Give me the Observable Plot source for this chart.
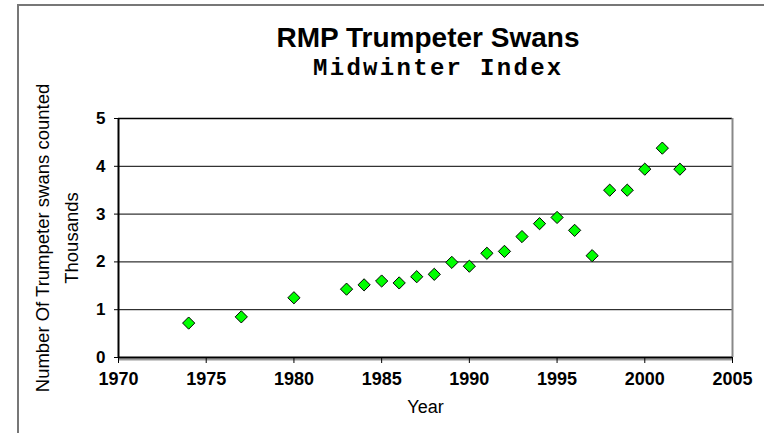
<!DOCTYPE html>
<html>
<head>
<meta charset="utf-8">
<script src="https://cdn.jsdelivr.net/npm/d3@7"></script>
<script src="https://cdn.jsdelivr.net/npm/@observablehq/plot@0.6"></script>
<style>
  html, body { margin: 0; padding: 0; background: #fff; }
  #wrap { position: relative; width: 764px; height: 433px; overflow: hidden; background: #fff; }
  #border { position: absolute; left: 17px; top: 4px; width: 900px; height: 600px;
            border-left: 2px solid #777; border-top: 2px solid #777; }
  #title { position: absolute; top: 24px; left: 428px; transform: translateX(-50%);
           font-family: "Liberation Sans", Arial, sans-serif; font-weight: bold; font-size: 28px;
           line-height: 1; white-space: nowrap; color: #000; }
  #subtitle { position: absolute; top: 57px; left: 313px;
           font-family: "Liberation Mono", "Courier New", monospace; font-weight: bold; font-size: 24px;
           letter-spacing: 2.3px; line-height: 1; white-space: nowrap; color: #000; }
  #chart { position: absolute; left: 0; top: 0; }
</style>
</head>
<body>
<div id="wrap">
  <div id="border"></div>
  <div id="chart"></div>
  <div id="title">RMP Trumpeter Swans</div>
  <div id="subtitle">Midwinter Index</div>
</div>
<script>
// Data (swan counts in thousands)
const years = [1974, 1977, 1980, 1983, 1984, 1985, 1986, 1987, 1988, 1989, 1990, 1991,
               1992, 1993, 1994, 1995, 1996, 1997, 1998, 1999, 2000, 2001, 2002];
const counts = [0.72, 0.85, 1.25, 1.43, 1.52, 1.60, 1.56, 1.69, 1.74, 1.99, 1.91, 2.18,
                2.22, 2.53, 2.80, 2.93, 2.66, 2.13, 3.50, 3.50, 3.94, 4.38, 3.94];
const xTicks = [1970, 1975, 1980, 1985, 1990, 1995, 2000, 2005];
const yTicks = [0, 1, 2, 3, 4, 5];
const gridValues = [1, 2, 3, 4];
const xLabel = "Year";
const yLabel1 = "Number Of Trumpeter swans counted";
const yLabel2 = "Thousands";

const data = years.map((y, i) => ({year: y, count: counts[i]}));

const chart = Plot.plot({
  width: 764,
  height: 433,
  marginLeft: 118,
  marginRight: 32,
  marginTop: 118,
  marginBottom: 76,
  style: {fontFamily: "'Liberation Sans', Arial, sans-serif", background: "transparent", color: "#000"},
  x: {domain: [1970, 2005]},
  y: {domain: [0, 5]},
  marks: [
    Plot.ruleY(gridValues, {stroke: "#000", strokeWidth: 1}),
    Plot.ruleY([5], {stroke: "#000", strokeWidth: 1.5}),
    Plot.ruleX([2005], {stroke: "#888", strokeWidth: 2}),
    Plot.ruleY([0], {stroke: "#999", strokeWidth: 2, dy: 2}),
    Plot.ruleY([0], {stroke: "#000", strokeWidth: 2}),
    Plot.ruleX([1970], {stroke: "#000", strokeWidth: 2}),
    Plot.axisX({ticks: xTicks, tickFormat: d => String(d), tickSize: 6, tickPadding: 9,
                fontSize: 18, fontWeight: "bold", label: null, stroke: "#000"}),
    Plot.axisY({ticks: yTicks, tickFormat: d => String(d), tickSize: 4, tickPadding: 9,
                fontSize: 17, fontWeight: "bold", label: null}),
    Plot.dot(data, {x: "year", y: "count", symbol: "diamond2", r: 5.5,
                    fill: "#00ff00", stroke: "#000", strokeWidth: 1}),
    Plot.text([xLabel], {frameAnchor: "bottom", dy: 55, fontSize: 18, fill: "#000"}),
    Plot.text([yLabel1], {frameAnchor: "left", textAnchor: "middle", dx: -75, rotate: -90, fontSize: 18.5, fill: "#000"}),
    Plot.text([yLabel2], {frameAnchor: "left", textAnchor: "middle", dx: -46, rotate: -90, fontSize: 18.5, fill: "#000"})
  ]
});
document.getElementById("chart").appendChild(chart);
</script>
</body>
</html>
